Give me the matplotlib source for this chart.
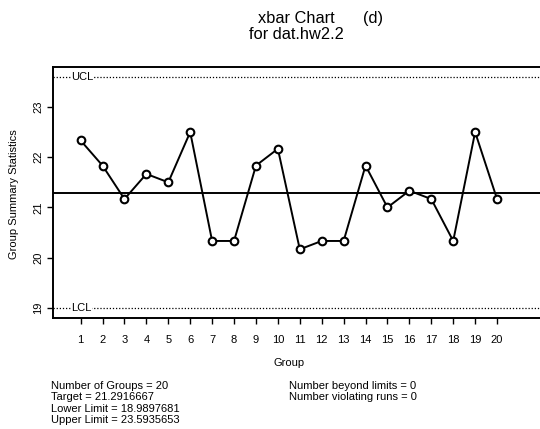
import numpy as np
import matplotlib.pyplot as plt

plt.rcParams['font.family'] = ['Liberation Sans', 'DejaVu Sans']

# group means
groups = list(range(1, 21))
group_means = [22.333, 21.833, 21.167, 21.667, 21.5, 22.5, 20.333, 20.333, 21.833, 22.167,
               20.167, 20.333, 20.333, 21.833, 21.0, 21.333, 21.167, 20.333, 22.5, 21.167]
center = 21.2916667
lcl = 18.9897681
ucl = 23.5935653
y_ticks = [19, 20, 21, 22, 23]

W, H = 540, 429
fig = plt.figure(figsize=(W / 100, H / 100), dpi=100)
ax = fig.add_axes([53 / W, 1 - 318 / H, 1 - 53 / W, (318 - 67) / H])

ax.axhline(ucl, color='black', linestyle=(0, (1, 1.5)), linewidth=0.9)
ax.axhline(lcl, color='black', linestyle=(0, (1, 1.5)), linewidth=0.9)
ax.axhline(center, color='black', linewidth=1.4)
ax.plot(groups, group_means, color='black', linewidth=1.4, marker='o', markersize=5.5,
        markerfacecolor='white', markeredgecolor='black', markeredgewidth=1.5)

ax.text(0.58, ucl, 'UCL', fontsize=8, va='center', ha='left',
        bbox=dict(facecolor='white', edgecolor='none', pad=0.5))
ax.text(0.58, lcl, 'LCL', fontsize=8, va='center', ha='left',
        bbox=dict(facecolor='white', edgecolor='none', pad=0.5))

ax.set_xlim(-0.26, 21.96)
ax.set_ylim(18.80, 23.795)
ax.set_xticks(groups)
ax.set_xticklabels([str(g) for g in groups], fontsize=8)
ax.set_yticks(y_ticks)
ax.set_yticklabels([str(v) for v in y_ticks], fontsize=8, rotation=90, va='center')
ax.tick_params(direction='out', length=4, width=1)
ax.tick_params(axis='x', pad=8)
ax.tick_params(axis='y', pad=3)
ax.spines['right'].set_visible(False)
for s in ['top', 'left', 'bottom']:
    ax.spines[s].set_linewidth(1.4)

fig.text(13.7 / W, 1 - 194 / H, 'Group Summary Statistics', rotation=90,
         fontsize=8, ha='center', va='center')
fig.text(289 / W, 1 - 366 / H, 'Group', fontsize=8, ha='center', va='baseline')

fig.text(296.5 / W, 1 - 23 / H, 'xbar Chart', fontsize=11.8, ha='center', va='baseline')
fig.text(296.5 / W, 1 - 39 / H, 'for dat.hw2.2', fontsize=11.8, ha='center', va='baseline')
fig.text(363 / W, 1 - 23 / H, '(d)', fontsize=11.8, ha='left', va='baseline')

left_lines = ['Number of Groups = 20', 'Target = 21.2916667',
              'Lower Limit = 18.9897681', 'Upper Limit = 23.5935653']
right_lines = ['Number beyond limits = 0', 'Number violating runs = 0']
for i, t in enumerate(left_lines):
    fig.text(51 / W, 1 - (389 + 11.3 * i) / H, t, fontsize=8, ha='left', va='baseline')
for i, t in enumerate(right_lines):
    fig.text(289 / W, 1 - (389 + 11.3 * i) / H, t, fontsize=8, ha='left', va='baseline')

fig.savefig('out.png', dpi=100)
